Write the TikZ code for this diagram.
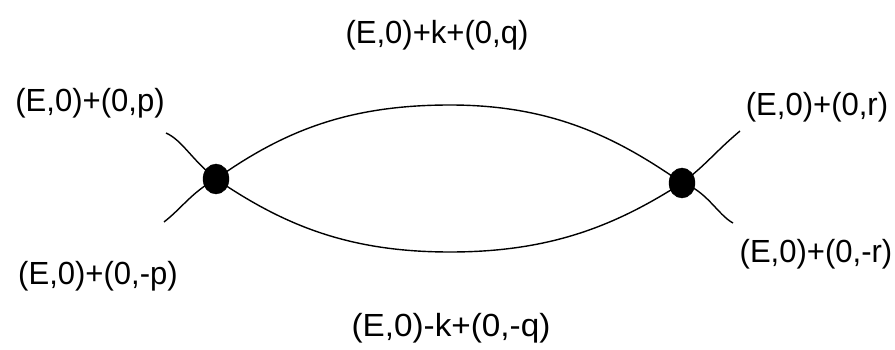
\documentclass[tikz,border=0pt]{standalone}
\usepackage{fontspec}
\setmainfont{Liberation Sans}
\usetikzlibrary{shapes.geometric}
\tikzset{lbl/.style={inner sep=0pt,font=\fontsize{32pt}{36pt}\selectfont,text=black},
 wire/.style={draw=black,line width=1.4pt},
 vertex/.style={draw=black,fill=black,ellipse,minimum width=26pt,minimum height=30pt,inner sep=0pt}}
\begin{document}
\begin{tikzpicture}[x=1pt,y=-1pt]
\useasboundingbox (0,0) rectangle (895,350);
\coordinate (a) at (166,133);
\coordinate (b) at (164,222);
\coordinate (c) at (740,131);
\coordinate (d) at (733,223);
\coordinate (top) at (450,105);
\coordinate (bot) at (450,252);
\node[vertex] (L) at (216,179) {};
\node[vertex] (R) at (682,183) {};
\draw[wire] (L.center) .. controls (192,160) and (182,140) .. (a);
\draw[wire] (L.center) .. controls (192,192) and (182,208) .. (b);
\draw[wire] (R.center) .. controls (706,165) and (715,152) .. (c);
\draw[wire] (R.center) .. controls (706,190) and (718,215) .. (d);
\draw[wire] (L.center) .. controls (285,130) and (350,105) .. (top) .. controls (550,105) and (615,136) .. (R.center);
\draw[wire] (L.center) .. controls (285,226) and (350,252) .. (bot) .. controls (550,252) and (615,226) .. (R.center);
\node[lbl] (t1) at (437,35) {\scalebox{0.97}[1]{(E,0)+k+(0,q)}};
\node[lbl] (t2) at (90,103) {\scalebox{0.97}[1]{(E,0)+(0,p)}};
\node[lbl] (t3) at (98,276) {\scalebox{0.97}[1]{(E,0)+(0,-p)}};
\node[lbl] (t4) at (817,107) {\scalebox{0.97}[1]{(E,0)+(0,r)}};
\node[lbl] (t5) at (816,254) {\scalebox{0.97}[1]{(E,0)+(0,-r)}};
\node[lbl] (t6) at (451,328) {\scalebox{1.04}[1]{(E,0)-k+(0,-q)}};
\end{tikzpicture}
\end{document}
